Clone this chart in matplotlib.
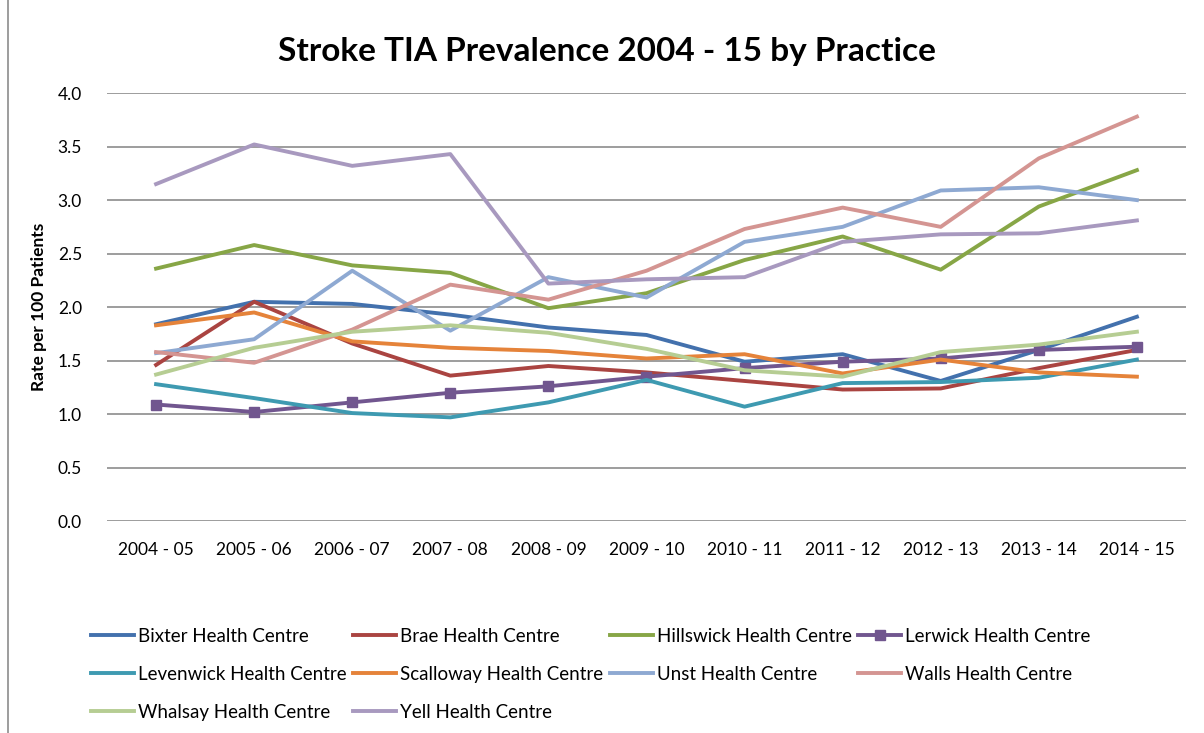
import matplotlib.pyplot as plt
from matplotlib.lines import Line2D

years = ['2004 - 05', '2005 - 06', '2006 - 07', '2007 - 08', '2008 - 09', '2009 - 10',
         '2010 - 11', '2011 - 12', '2012 - 13', '2013 - 14', '2014 - 15']

bixter = [1.84, 2.05, 2.03, 1.93, 1.81, 1.74, 1.49, 1.56, 1.31, 1.60, 1.91]
brae = [1.46, 2.05, 1.66, 1.36, 1.45, 1.39, 1.31, 1.23, 1.24, 1.43, 1.60]
hillswick = [2.36, 2.58, 2.39, 2.32, 1.99, 2.13, 2.44, 2.66, 2.35, 2.94, 3.28]
lerwick = [1.09, 1.02, 1.11, 1.20, 1.26, 1.35, 1.43, 1.49, 1.52, 1.60, 1.63]
levenwick = [1.28, 1.15, 1.01, 0.97, 1.11, 1.32, 1.07, 1.29, 1.30, 1.34, 1.51]
scalloway = [1.83, 1.95, 1.68, 1.62, 1.59, 1.52, 1.56, 1.38, 1.51, 1.39, 1.35]
unst = [1.57, 1.70, 2.34, 1.78, 2.28, 2.09, 2.61, 2.75, 3.09, 3.12, 3.00]
walls = [1.58, 1.48, 1.79, 2.21, 2.07, 2.34, 2.73, 2.93, 2.75, 3.39, 3.78]
whalsay = [1.37, 1.62, 1.77, 1.83, 1.76, 1.61, 1.41, 1.35, 1.58, 1.65, 1.77]
yell = [3.15, 3.52, 3.32, 3.43, 2.22, 2.26, 2.28, 2.61, 2.68, 2.69, 2.81]

names = ['Bixter Health Centre', 'Brae Health Centre', 'Hillswick Health Centre',
         'Lerwick Health Centre', 'Levenwick Health Centre', 'Scalloway Health Centre',
         'Unst Health Centre', 'Walls Health Centre', 'Whalsay Health Centre',
         'Yell Health Centre']
series = [bixter, brae, hillswick, lerwick, levenwick, scalloway, unst, walls, whalsay, yell]
colors = ['#4371AD', '#AA4441', '#87A646', '#71568F', '#3E9AB1', '#E5833A',
          '#8EA9D2', '#D49592', '#B6CD93', '#A899BF']

plt.rcParams['font.family'] = ['Lato', 'DejaVu Sans']

fig = plt.figure(figsize=(12.04, 7.33), dpi=100)
ax = fig.add_axes([0.0889, 0.289, 0.985 - 0.0889, 0.873 - 0.289])

x = list(range(len(years)))
handles = []
for name, vals, c in zip(names, series, colors):
    if name.startswith('Lerwick'):
        h, = ax.plot(x, vals, color=c, lw=2.8, marker='s', markersize=7, label=name)
    else:
        h, = ax.plot(x, vals, color=c, lw=2.8, label=name)
    handles.append(h)

ax.set_xlim(-0.5, len(years) - 0.5)
ax.set_ylim(0, 4.0)
ax.set_yticks([i * 0.5 for i in range(9)])
ax.set_yticklabels([f'{i * 0.5:.1f}' for i in range(9)], fontsize=12.5)
ax.set_xticks(x)
ax.set_xticklabels(years, fontsize=12.5)
ax.tick_params(axis='x', length=0, pad=15)
ax.tick_params(axis='y', length=0, pad=18)
ax.grid(axis='y', color='#8C8C8C', lw=1.2)
ax.set_axisbelow(True)
for s in ax.spines.values():
    s.set_visible(False)

ax.set_ylabel('Rate per 100 Patients', fontsize=12.5, fontweight='bold', labelpad=8)
fig.suptitle('Stroke TIA Prevalence 2004 - 15 by Practice', fontsize=24,
             fontweight='bold', x=0.504, y=0.95)

# legend rows: reorder so column-major fill gives row-major layout
order = [0, 4, 8, 1, 5, 9, 2, 6, 3, 7]
fig.legend([handles[i] for i in order], [names[i] for i in order], ncol=4,
           loc='upper left', bbox_to_anchor=(0.0694, 0.1535), frameon=False,
           fontsize=13.5, handlelength=2.3, handletextpad=0.2, columnspacing=0.35,
           labelspacing=1.12, borderaxespad=0)

fig.add_artist(Line2D([8 / 1204, 8 / 1204], [0, 1], color='#8C8C8C', lw=1.2))

fig.savefig('out.png', dpi=100)
